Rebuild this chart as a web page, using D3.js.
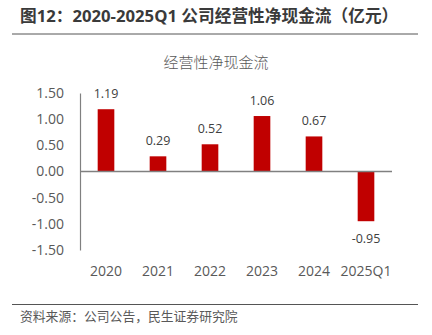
<!DOCTYPE html>
<html>
<head>
<meta charset="utf-8">
<script src="https://cdn.jsdelivr.net/npm/d3@7"></script>
<style>
body { margin: 0; background: #fff; }
text { font-family: "Open Sans", "Noto Sans CJK SC", sans-serif; }
</style>
</head>
<body>
<div class="chart"></div>
<script>
// data
const years = ['2020', '2021', '2022', '2023', '2024', '2025Q1']
const cashflow = [1.19, 0.29, 0.52, 1.06, 0.67, -0.95]
const yTicks = [1.5, 1.0, 0.5, 0.0, -0.5, -1.0, -1.5]

const W = 432, H = 335

const svg = d3.select('.chart')
    .append('svg')
    .attr('width', W)
    .attr('height', H)

// header
svg.append('text')
    .attr('x', 20)
    .attr('y', 22)
    .attr('font-size', 16.7)
    .attr('font-weight', 'bold')
    .attr('fill', '#3a3a3a')
    .attr('font-family', '"Noto Sans CJK SC", sans-serif')
    .text('图12：2020-2025Q1 公司经营性净现金流（亿元）')

svg.append('line')
    .attr('x1', 12).attr('x2', 418)
    .attr('y1', 34).attr('y2', 34)
    .attr('stroke', '#555')
    .attr('stroke-width', 1)

svg.append('text')
    .attr('x', 216)
    .attr('y', 68)
    .attr('text-anchor', 'middle')
    .attr('font-size', 15)
    .attr('font-weight', 300)
    .attr('fill', '#595959')
    .attr('font-family', '"Noto Sans CJK SC", sans-serif')
    .text('经营性净现金流')

const xScale = d3.scaleBand()
    .domain(years)
    .range([80, 392])
    .paddingInner(0.68)
    .paddingOuter(0.34)

const yScale = d3.scaleLinear()
    .domain([-1.5, 1.5])
    .range([250, 93])

// y axis
const yAxis = svg.append('g')
    .attr('transform', 'translate(80,0)')
    .call(d3.axisLeft(yScale).tickValues(yTicks).tickFormat(d3.format('.2f')).tickSize(0))
yAxis.select('.domain').attr('stroke', '#808080').attr('stroke-width', 1.2)
yAxis.selectAll('.tick text')
    .attr('x', -16)
    .attr('font-size', 14)
    .attr('fill', '#595959')
    .text(d => d3.format('.2f')(d).replace('−', '-'))

// bars
svg.append('g')
    .selectAll('rect')
    .data(cashflow)
    .enter()
    .append('rect')
    .attr('x', (d, i) => xScale(years[i]))
    .attr('width', xScale.bandwidth())
    .attr('y', d => yScale(Math.max(0, d)))
    .attr('height', d => Math.abs(yScale(d) - yScale(0)))
    .attr('fill', '#C00000')

// zero line
svg.append('line')
    .attr('x1', 80).attr('x2', 392)
    .attr('y1', yScale(0)).attr('y2', yScale(0))
    .attr('stroke', '#808080')
    .attr('stroke-width', 1.5)

// value labels
svg.append('g')
    .selectAll('text')
    .data(cashflow)
    .enter()
    .append('text')
    .attr('x', (d, i) => xScale(years[i]) + xScale.bandwidth() / 2)
    .attr('y', d => d >= 0 ? yScale(d) - 11 : yScale(d) + 22)
    .attr('text-anchor', 'middle')
    .attr('font-size', 12.5)
    .attr('fill', '#404040')
    .text(d => d.toFixed(2))

// category labels
svg.append('g')
    .selectAll('text')
    .data(years)
    .enter()
    .append('text')
    .attr('x', d => xScale(d) + xScale.bandwidth() / 2)
    .attr('y', 276)
    .attr('text-anchor', 'middle')
    .attr('font-size', 14)
    .attr('fill', '#595959')
    .text(d => d)

// footer
svg.append('line')
    .attr('x1', 12).attr('x2', 418)
    .attr('y1', 304.5).attr('y2', 304.5)
    .attr('stroke', '#555')
    .attr('stroke-width', 1)

svg.append('text')
    .attr('x', 20)
    .attr('y', 321)
    .attr('font-size', 12.8)
    .attr('fill', '#595959')
    .attr('font-family', '"Noto Sans CJK SC", sans-serif')
    .text('资料来源：公司公告，民生证券研究院')
</script>
</body>
</html>
